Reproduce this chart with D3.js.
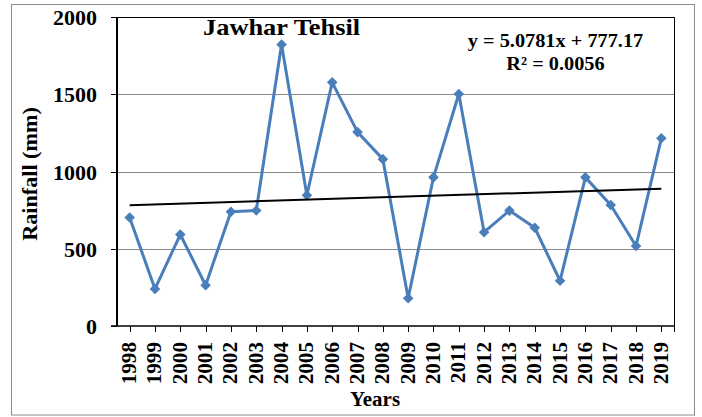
<!DOCTYPE html>
<html>
<head>
<meta charset="utf-8">
<script src="https://cdn.jsdelivr.net/npm/d3@7"></script>
<style>
  html, body { margin: 0; padding: 0; background: #fff; }
  text { font-family: "Liberation Serif", "Times New Roman", serif; font-weight: bold; fill: #000; }
</style>
</head>
<body>
<div id="chart"></div>
<script>
// chart data
var years = ['1998', '1999', '2000', '2001', '2002', '2003', '2004', '2005', '2006', '2007', '2008',
             '2009', '2010', '2011', '2012', '2013', '2014', '2015', '2016', '2017', '2018', '2019'];
var rainfall = [702, 240, 592, 264, 740, 748, 1822, 846, 1577, 1255, 1080,
                180, 962, 1502, 607, 747, 636, 293, 962, 783, 518, 1215];
var y_ticks = [0, 500, 1000, 1500, 2000];

// trend line as printed on the chart
var trend_slope = 5.0781;
var trend_intercept = 777.17;
var trend_eq = 'y = 5.0781x + 777.17';
var trend_r2 = 'R\u00B2 = 0.0056';

var chart_title = 'Jawhar Tehsil';
var x_title = 'Years';
var y_title = 'Rainfall (mm)';

var width = 702;
var height = 417;
var plot = {left: 117, right: 674, top: 17, bottom: 326};

var svg = d3.select('#chart')
  .append('svg')
  .attr('width', width)
  .attr('height', height);

// outer chart border
svg.append('rect')
  .attr('x', 11.5)
  .attr('y', 4.5)
  .attr('width', 683)
  .attr('height', 410.5)
  .attr('fill', '#fff')
  .attr('stroke', '#8c8c8c')
  .attr('stroke-width', 1);

var x = d3.scaleBand()
  .domain(years)
  .range([plot.left, plot.right])
  .padding(0);

var y = d3.scaleLinear()
  .domain([0, 2000])
  .range([plot.bottom, plot.top]);

var cx = function(d) { return x(d) + x.bandwidth() / 2; };

// text helper, text is a bit wider than Liberation Serif so scale along its direction
function addText(g, str, px, py, opts) {
  var rot = opts.rotate || 0;
  var sx = opts.stretch || 1;
  return g.append('text')
    .attr('transform', 'translate(' + px + ',' + py + ') rotate(' + rot + ') scale(' + sx + ',1)')
    .attr('text-anchor', opts.anchor || 'start')
    .style('font-size', opts.size + 'px')
    .text(str);
}

// gridlines
svg.append('g')
  .attr('class', 'grid')
  .selectAll('line')
  .data(y_ticks.filter(function(t) { return t > 0 && t < 2000; }))
  .enter().append('line')
    .attr('x1', plot.left)
    .attr('x2', plot.right)
    .attr('y1', function(d) { return Math.round(y(d)) + 0.5; })
    .attr('y2', function(d) { return Math.round(y(d)) + 0.5; })
    .attr('stroke', '#8a8a8a')
    .attr('stroke-width', 1);

// plot area border (top and right)
svg.append('path')
  .attr('d', 'M' + plot.left + ',' + (plot.top + 0.5) + 'H' + (plot.right + 0.5) + 'V' + plot.bottom)
  .attr('fill', 'none')
  .attr('stroke', '#000')
  .attr('stroke-width', 1);

// y axis ticks and labels
var y_axis = svg.append('g').attr('class', 'y-axis');
y_axis.selectAll('line')
  .data(y_ticks)
  .enter().append('line')
    .attr('x1', plot.left - 6)
    .attr('x2', plot.left)
    .attr('y1', function(d) { return Math.round(y(d)) + 0.5; })
    .attr('y2', function(d) { return Math.round(y(d)) + 0.5; })
    .attr('stroke', '#000')
    .attr('stroke-width', 1);
y_ticks.forEach(function(t) {
  addText(y_axis, t, 97, y(t) + 8, {anchor: 'end', size: 20, stretch: 1.1});
});

// x axis ticks and labels
var x_axis = svg.append('g').attr('class', 'x-axis');
x_axis.selectAll('line')
  .data(years)
  .enter().append('line')
    .attr('x1', function(d) { return Math.round(cx(d)) + 0.5; })
    .attr('x2', function(d) { return Math.round(cx(d)) + 0.5; })
    .attr('y1', plot.bottom)
    .attr('y2', plot.bottom + 6)
    .attr('stroke', '#000')
    .attr('stroke-width', 1);
x_axis.append('line')
  .attr('x1', plot.right + 0.5)
  .attr('x2', plot.right + 0.5)
  .attr('y1', plot.bottom)
  .attr('y2', plot.bottom + 6)
  .attr('stroke', '#000');
years.forEach(function(yr) {
  addText(x_axis, yr, cx(yr) + 6.5, 342, {anchor: 'end', size: 20, rotate: -90, stretch: 1.06});
});

// axis lines
svg.append('line')
  .attr('x1', plot.left - 6)
  .attr('x2', plot.right)
  .attr('y1', plot.bottom)
  .attr('y2', plot.bottom)
  .attr('stroke', '#000')
  .attr('stroke-width', 1.5);
svg.append('line')
  .attr('x1', plot.left)
  .attr('x2', plot.left)
  .attr('y1', plot.top)
  .attr('y2', plot.bottom)
  .attr('stroke', '#000')
  .attr('stroke-width', 2);

// rainfall series
var series = years.map(function(yr, i) { return {year: yr, value: rainfall[i]}; });
var line = d3.line()
  .x(function(d) { return cx(d.year); })
  .y(function(d) { return y(d.value); });

svg.append('path')
  .datum(series)
  .attr('d', line)
  .attr('fill', 'none')
  .attr('stroke', '#4a7ebb')
  .attr('stroke-width', 3)
  .attr('stroke-linejoin', 'round');

svg.append('g')
  .attr('class', 'markers')
  .selectAll('path')
  .data(series)
  .enter().append('path')
    .attr('d', d3.symbol().type(d3.symbolSquare).size(56))
    .attr('transform', function(d) { return 'translate(' + cx(d.year) + ',' + y(d.value) + ') rotate(45)'; })
    .attr('fill', '#4a7ebb');

// linear trend line, x runs 1..n like in excel
var trend = [1, years.length].map(function(n) {
  return {year: years[n - 1], value: trend_slope * n + trend_intercept};
});
svg.append('path')
  .datum(trend)
  .attr('d', line)
  .attr('fill', 'none')
  .attr('stroke', '#000')
  .attr('stroke-width', 2);

// titles
addText(svg, chart_title, 203, 35, {size: 24, stretch: 1.1});
addText(svg, trend_eq, 555.5, 46.5, {anchor: 'middle', size: 19, stretch: 1.07});
addText(svg, trend_r2, 555.5, 69.5, {anchor: 'middle', size: 19, stretch: 1.07});
addText(svg, y_title, 37, 174, {anchor: 'middle', size: 20, rotate: -90, stretch: 1.11});
addText(svg, x_title, 375, 406, {anchor: 'middle', size: 20, stretch: 1.05});
</script>
</body>
</html>
